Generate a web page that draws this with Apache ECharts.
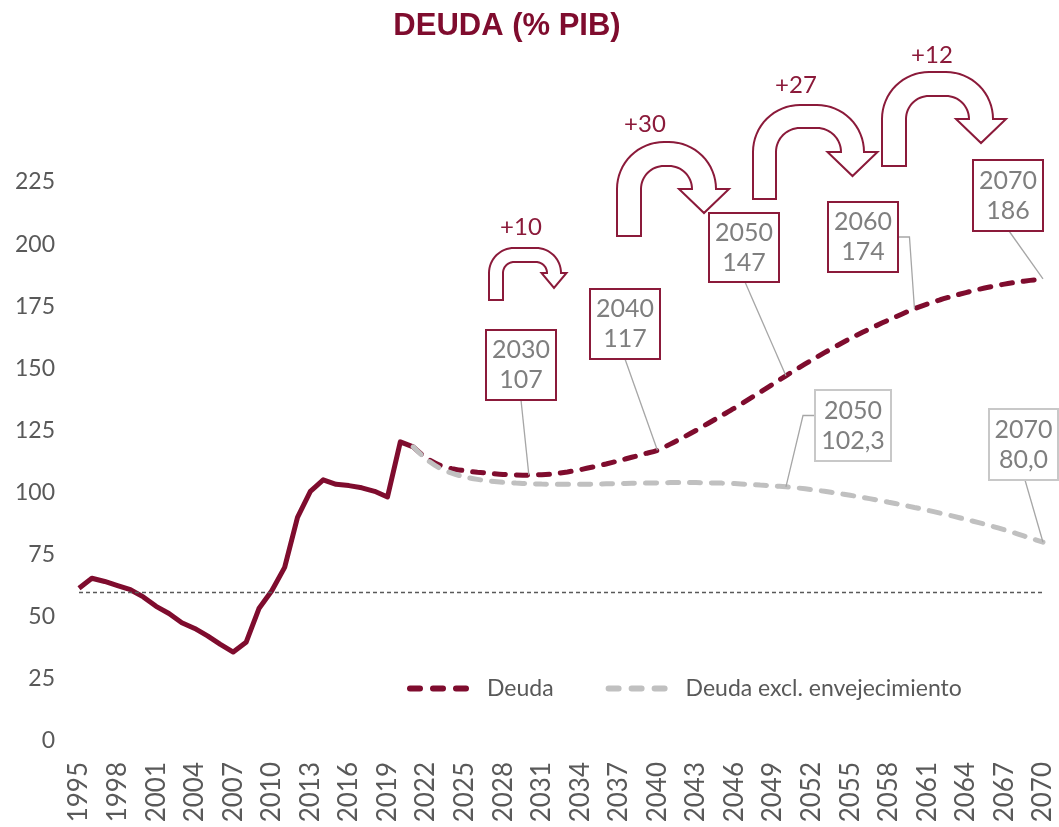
<!DOCTYPE html>
<html>
<head>
<meta charset="utf-8">
<script src="https://cdn.jsdelivr.net/npm/echarts@6/dist/echarts.min.js"></script>
<style>
  html, body { margin: 0; padding: 0; background: #fff; }
  #chart { width: 1059px; height: 827px; }
</style>
</head>
<body>
<div id="chart"></div>
<script>
// años 1995-2070
const years = []
for (let y = 1995; y <= 2070; y++) years.push(String(y))

// deuda observada 1995-2021
const historico = [61.5, 65.5, 64.2, 62.5, 60.9, 58.0, 54.2, 51.3, 47.6, 45.3,
  42.3, 38.9, 35.8, 39.7, 53.3, 60.5, 69.9, 90.0, 100.5, 105.1,
  103.3, 102.8, 101.9, 100.5, 98.2, 120.4, 118.4]

// proyección 2021-2070
const deuda = [118.4, 114.0, 111.2, 109.6, 108.8, 108.2, 107.7, 107.3, 107.1, 107.0,
  107.2, 107.6, 108.3, 109.2, 110.3, 111.5, 112.8, 114.2, 115.6, 117.0,
  119.5, 122.2, 125.0, 128.0, 131.0, 134.0, 137.2, 140.4, 143.7, 147.0,
  150.2, 153.3, 156.3, 159.2, 162.0, 164.6, 167.1, 169.5, 171.8, 174.0,
  175.9, 177.6, 179.1, 180.5, 181.8, 182.9, 183.9, 184.7, 185.4, 186.0]

const deudaExcl = [118.4, 113.5, 110.0, 107.8, 106.3, 105.3, 104.6, 104.1, 103.8, 103.6,
  103.4, 103.3, 103.3, 103.3, 103.4, 103.5, 103.6, 103.7, 103.8, 103.9,
  104.0, 104.0, 104.0, 103.9, 103.8, 103.6, 103.3, 103.0, 102.7, 102.3,
  101.8, 101.2, 100.5, 99.7, 98.9, 98.0, 97.1, 96.1, 95.1, 94.0,
  92.9, 91.7, 90.5, 89.2, 87.9, 86.5, 85.0, 83.4, 81.7, 80.0]

const referencia = 60

// etiquetas: año, texto, serie
const etiquetas = [
  { year: '2030', text: '2030\n107', serie: 'deuda' },
  { year: '2040', text: '2040\n117', serie: 'deuda' },
  { year: '2050', text: '2050\n147', serie: 'deuda' },
  { year: '2060', text: '2060\n174', serie: 'deuda' },
  { year: '2070', text: '2070\n186', serie: 'deuda' },
  { year: '2050', text: '2050\n102,3', serie: 'excl' },
  { year: '2070', text: '2070\n80,0', serie: 'excl' }
]
const saltos = ['+10', '+30', '+27', '+12']

const rojo = '#7f0c2e'
const granate = '#8b1a3a'
const gris = '#c0c0c0'
const font = 'Lato, "Open Sans", sans-serif'

const startIdx = years.indexOf('2021')
const histData = years.map((y, i) => i < historico.length ? historico[i] : null)
const deudaData = years.map((y, i) => i >= startIdx ? deuda[i - startIdx] : null)
const exclData = years.map((y, i) => i >= startIdx ? deudaExcl[i - startIdx] : null)

let myChart = echarts.init(document.getElementById('chart'))

myChart.setOption({
  animation: false,
  title: {
    text: 'DEUDA (% PIB)',
    left: 502,
    textAlign: 'center',
    top: 6,
    textStyle: { fontFamily: '"Liberation Sans", Arial, sans-serif', fontWeight: 'bold', fontSize: 31, color: rojo }
  },
  grid: { left: 79, right: 16, top: 182, bottom: 86, containLabel: false },
  legend: {
    data: ['Deuda', 'Deuda excl. envejecimiento'],
    left: 402,
    top: 672,
    itemWidth: 66,
    itemHeight: 14,
    itemGap: 52,
    itemStyle: { opacity: 0 },
    lineStyle: { width: 6, type: [10, 13], cap: 'round' },
    textStyle: { fontFamily: font, fontSize: 23, color: '#595959', padding: [0, 0, 0, 6] }
  },
  xAxis: {
    type: 'category',
    data: years,
    boundaryGap: false,
    axisLine: { show: false },
    axisTick: { show: false },
    axisLabel: {
      interval: 2,
      rotate: 90,
      margin: 21,
      fontFamily: font,
      fontSize: 26,
      color: '#595959'
    }
  },
  yAxis: {
    type: 'value',
    min: 0,
    max: 225,
    interval: 25,
    splitLine: { show: false },
    axisLine: { show: false },
    axisTick: { show: false },
    axisLabel: { margin: 24, fontFamily: font, fontSize: 23, color: '#595959' }
  },
  series: [
    {
      name: 'Histórico',
      type: 'line',
      data: histData,
      symbol: 'none',
      lineStyle: { color: rojo, width: 5, join: 'round' },
      itemStyle: { color: rojo },
      markLine: {
        silent: true,
        symbol: 'none',
        label: { show: false },
        lineStyle: { color: '#595959', width: 1.3, type: [4, 3] },
        data: [{ yAxis: referencia }]
      }
    },
    {
      name: 'Deuda',
      type: 'line',
      data: deudaData,
      symbol: 'none',
      smooth: 0.3,
      lineStyle: { color: rojo, width: 5, type: [11, 11], cap: 'round' },
      itemStyle: { color: rojo }
    },
    {
      name: 'Deuda excl. envejecimiento',
      type: 'line',
      data: exclData,
      symbol: 'none',
      smooth: 0.3,
      lineStyle: { color: gris, width: 5, type: [11, 11], cap: 'round' },
      itemStyle: { color: gris }
    }
  ]
})

// puntos de un arco (coordenadas de pantalla)
function arco(pts, cx, cy, r, a0, a1) {
  let n = 16
  for (let k = 0; k <= n; k++) {
    let a = (a0 + (a1 - a0) * k / n) * Math.PI / 180
    pts.push([cx + r * Math.cos(a), cy + r * Math.sin(a)])
  }
}

// flecha en U (forma de Excel)
function uturn(L, B, T, Rx, w, r, hw, tip) {
  let cx = Rx - w / 2
  let ri = r - w
  let pts = [[L, B]]
  arco(pts, L + r, T + r, r, 180, 270)
  arco(pts, Rx - r, T + r, r, 270, 360)
  pts.push([cx + hw, T + r], [cx, T + r + tip], [cx - hw, T + r])
  arco(pts, Rx - r, T + r, ri, 360, 270)
  arco(pts, L + r, T + r, ri, 270, 180)
  pts.push([L + w, B])
  return pts
}

const flechas = [
  { p: [489, 300, 248, 561, 14, 25, 12.5, 15], label: [521, 227] },
  { p: [617, 236, 142, 716, 24, 47, 25, 24], label: [645, 124] },
  { p: [753, 199, 105, 864, 23, 47, 25, 24], label: [796, 85] },
  { p: [882, 166, 72, 993, 24, 47, 25, 24], label: [932, 55] }
]

// cajas de etiqueta
const cajas = [
  { x: 486, y: 330, w: 70, h: 70, from: 'bottom' },
  { x: 590, y: 289, w: 70, h: 70, from: 'bottom' },
  { x: 709, y: 213, w: 70, h: 69, from: 'bottom', fx: 745 },
  { x: 828, y: 202, w: 70, h: 70, from: 'right' },
  { x: 973, y: 160, w: 70, h: 71, from: 'bottom', fx: 1009 },
  { x: 815, y: 390, w: 76, h: 71, from: 'left' },
  { x: 989, y: 409, w: 69, h: 71, from: 'bottom', fx: 1025 }
]

let graphic = []
flechas.forEach((f, i) => {
  graphic.push({
    type: 'polygon',
    shape: { points: uturn.apply(null, f.p) },
    style: { fill: '#fff', stroke: granate, lineWidth: 2 },
    z: 100
  })
  graphic.push({
    type: 'text',
    x: f.label[0],
    y: f.label[1],
    style: { text: saltos[i], fontFamily: font, fontSize: 24, fill: granate, align: 'center', verticalAlign: 'middle' },
    z: 100
  })
})

etiquetas.forEach((e, i) => {
  let c = cajas[i]
  let idx = years.indexOf(e.year)
  let val = e.serie === 'deuda' ? deudaData[idx] : exclData[idx]
  let pt = myChart.convertToPixel({ gridIndex: 0 }, [idx, val])
  let pts
  if (c.from === 'bottom') {
    pts = [[c.fx || c.x + c.w / 2, c.y + c.h], pt]
  } else if (c.from === 'right') {
    let ym = c.y + c.h / 2
    pts = [[c.x + c.w, ym], [pt[0] - 5, ym], pt]
  } else {
    let ym = c.y + c.h / 2 - 10
    pts = [[c.x, ym], [c.x - 12, ym], pt]
  }
  graphic.push({
    type: 'polyline',
    shape: { points: pts },
    style: { stroke: '#a6a6a6', lineWidth: 1.3, fill: null },
    z: 90
  })
  graphic.push({
    type: 'rect',
    shape: { x: c.x, y: c.y, width: c.w, height: c.h },
    style: { fill: '#fff', stroke: e.serie === 'deuda' ? granate : '#c8c8c8', lineWidth: 2 },
    z: 100
  })
  graphic.push({
    type: 'text',
    x: c.x + c.w / 2,
    y: c.y + c.h / 2,
    style: {
      text: e.text, fontFamily: font, fontSize: 25, lineHeight: 30,
      fill: '#7f7f7f', align: 'center', verticalAlign: 'middle'
    },
    z: 101
  })
})

myChart.setOption({ graphic: graphic })
</script>
</body>
</html>
